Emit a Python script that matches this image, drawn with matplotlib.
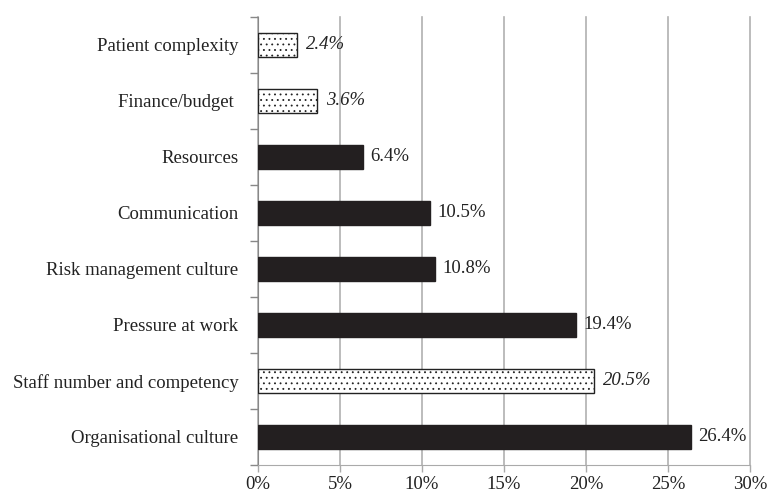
import numpy as np
import matplotlib.pyplot as plt

plt.rcParams['font.family'] = ['Liberation Serif', 'DejaVu Serif']
plt.rcParams['hatch.linewidth'] = 0.6
plt.rcParams['hatch.color'] = '#666666'

categories = ['Organisational culture', 'Staff number and competency', 'Pressure at work',
              'Risk management culture', 'Communication', 'Resources',
              'Finance/budget ', 'Patient complexity']
values = [26.4, 20.5, 19.4, 10.8, 10.5, 6.4, 3.6, 2.4]
dotted = [False, True, False, False, False, False, True, True]

fig = plt.figure(figsize=(7.67, 4.94), dpi=100)
ax = fig.add_axes([0.3364, 0.0587, 0.6414, 0.907])

fs = 13.5
y = np.arange(len(categories))
for i in range(len(categories)):
    if dotted[i]:
        ax.barh(y[i], values[i], height=0.42, color='white', edgecolor='#222222',
                hatch='...', linewidth=1.0, zorder=3)
        ax.text(values[i] + 0.55, y[i], '%.1f%%' % values[i], va='center', ha='left',
                fontsize=fs, style='italic', color='#222222')
    else:
        ax.barh(y[i], values[i], height=0.42, color='#231f20', edgecolor='#231f20', zorder=3)
        ax.text(values[i] + 0.45, y[i], '%.1f%%' % values[i], va='center', ha='left',
                fontsize=fs, color='#222222')

ax.set_xlim(0, 30)
ax.set_ylim(-0.5, len(categories) - 0.5)
ax.set_xticks(np.arange(0, 31, 5))
ax.set_xticklabels(['%d%%' % v for v in range(0, 31, 5)], fontsize=fs, color='#222222')
ax.set_yticks(y)
ax.set_yticklabels(categories, fontsize=fs, color='#222222')
ax.tick_params(axis='y', length=0, pad=14)
ax.set_yticks(np.arange(-0.5, len(categories), 1), minor=True)
ax.tick_params(axis='y', which='minor', length=6, color='#888888', width=1)
ax.tick_params(axis='x', length=5, color='#aaaaaa', width=1, pad=3)

ax.grid(axis='x', color='#b0b0b0', linewidth=1.2, zorder=0)
for gl in ax.get_xgridlines():
    gl.set_clip_on(False)
ax.set_axisbelow(True)
for s in ['top', 'right']:
    ax.spines[s].set_visible(False)
ax.spines['left'].set_color('#888888')
ax.spines['bottom'].set_color('#aaaaaa')

plt.savefig('out.png')
